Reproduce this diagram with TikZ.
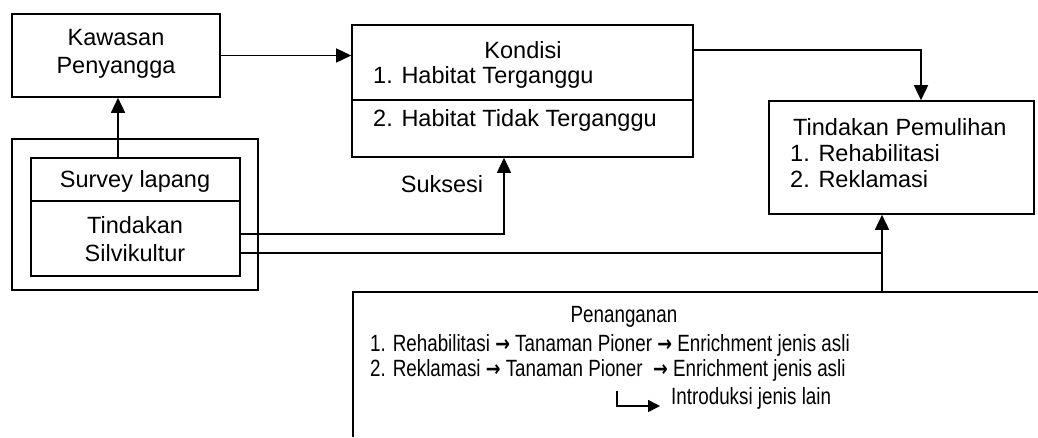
\documentclass[tikz,border=0pt]{standalone}
\usepackage{fontspec}
\setmainfont{Liberation Sans}
\newfontfamily\arrfont{DejaVu Sans}
\usetikzlibrary{arrows.meta}
\newcommand{\rarr}{{\arrfont\bfseries\fontsize{22}{25}\selectfont →}}
\begin{document}
\begin{tikzpicture}[x=1pt,y=-1pt,
  box/.style={draw,line width=1.6pt,rectangle,inner sep=0pt},
  conn/.style={line width=1.6pt},
  arr/.style={conn,-{Triangle[length=15pt,width=14pt]}},
  txt/.style={inner sep=0pt,font=\fontsize{23.5}{28}\selectfont},
  ntxt/.style={inner sep=0pt,anchor=west,font=\fontsize{23.5}{28}\selectfont}]
\useasboundingbox (0,0) rectangle (1038,437);
% Kawasan Penyangga
\node[box,minimum width=208pt,minimum height=83pt] (kaw) at (116,55.5) {};
\node[txt,align=center] (kawt) at (116,54) {Kawasan\\Penyangga};
% Kondisi
\node[box,minimum width=341pt,minimum height=132pt] (kon) at (522.5,91) {};
\coordinate (kdl) at (352,100);
\coordinate (kdr) at (693,100);
\draw[conn] (kdl) -- (kdr);
\node[txt] (kont) at (523,50) {Kondisi};
\node[ntxt] (kon1) at (373,77) {1. Habitat Terganggu};
\node[ntxt] (kon2) at (373,120) {2. Habitat Tidak Terganggu};
% outer / inner boxes
\node[box,minimum width=246pt,minimum height=151pt] (outer) at (135,214.5) {};
\node[box,minimum width=209pt,minimum height=118pt] (inner) at (135.5,217) {};
\coordinate (idl) at (31,201);
\coordinate (idr) at (240,201);
\draw[conn] (idl) -- (idr);
\node[txt] (surv) at (135,181) {Survey lapang};
\node[txt,align=center] (silv) at (135,239) {Tindakan\\Silvikultur};
% Tindakan Pemulihan
\node[box,minimum width=265pt,minimum height=113pt] (pem) at (901.5,157.5) {};
\node[ntxt] (pem0) at (793,127) {Tindakan Pemulihan};
\node[ntxt] (pem1) at (790,153) {1. Rehabilitasi};
\node[ntxt] (pem2) at (790,179) {2. Reklamasi};
% Penanganan (open box)
\coordinate (pr) at (1038,292);
\coordinate (ptl) at (353,292);
\coordinate (pb) at (353,437);
\draw[conn] (pr) -- (ptl) -- (pb);
\node[txt] (pen) at (624,317) {\scalebox{0.8}[1]{Penanganan}};
\node[ntxt] (pen1) at (370,345) {\scalebox{0.8}[1]{1. Rehabilitasi \rarr{} Tanaman Pioner \rarr{} Enrichment jenis asli}};
\node[ntxt] (pen2) at (370,370) {\scalebox{0.8}[1]{2. Reklamasi \rarr{} Tanaman Pioner \ \rarr{} Enrichment jenis asli}};
\node[ntxt] (pen3) at (671,398) {\scalebox{0.8}[1]{Introduksi jenis lain}};
\coordinate (elb) at (617,391);
\draw[conn,-{Triangle[length=12pt,width=12pt]}] (elb) |- (660,406);
% Suksesi
\node[txt] (suk) at (442,184) {Suksesi};
% connectors
\draw[arr] (inner.north -| 118,0) -- (kaw.south -| 118,0);
\draw[arr] (kaw.east) -- (kon.west |- kaw.east);
\draw[arr] ([yshift=-26pt]kon.north east) -| (pem.north -| 921,0);
\draw[arr] (inner.east |- 0,234) -| (kon.south -| 504,0);
\coordinate (j) at (882,292);
\draw[conn] (inner.east |- 0,253) -- (882,253);
\draw[arr] (j) -- (pem.south -| j);
\end{tikzpicture}
\end{document}
